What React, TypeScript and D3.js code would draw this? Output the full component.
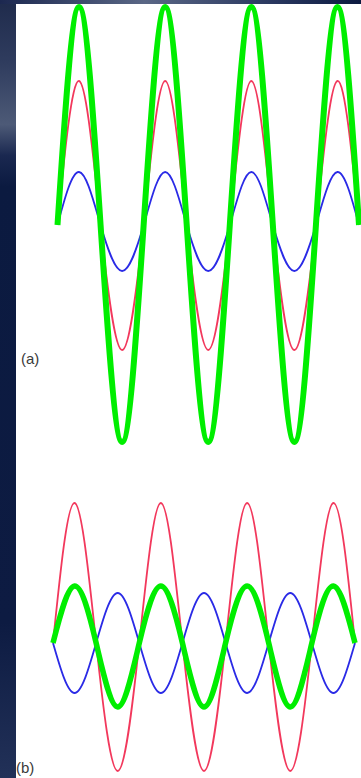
import React, { useEffect, useRef } from "react";
import * as d3 from "d3";

// quarter-period steps along the wave (3.5 periods)
const steps = [0, 1, 2, 3, 4, 5, 6, 7, 8, 9, 10, 11, 12, 13, 14];

// (a) in phase: constructive
const blueA = [0, 0.53, 0, -0.46, 0, 0.53, 0, -0.46, 0, 0.53, 0, -0.46, 0, 0.53, 0];
const redA = [0, 1.44, 0, -1.25, 0, 1.44, 0, -1.25, 0, 1.44, 0, -1.25, 0, 1.44, 0];
const greenA = [0, 2.18, 0, -2.17, 0, 2.18, 0, -2.17, 0, 2.18, 0, -2.17, 0, 2.18, 0];

// (b) out of phase: destructive
const blueB = [0, -0.5, 0, 0.5, 0, -0.5, 0, 0.5, 0, -0.5, 0, 0.5, 0, -0.5, 0];
const redB = [0, 1.4, 0, -1.28, 0, 1.4, 0, -1.28, 0, 1.4, 0, -1.28, 0, 1.4, 0];
const greenB = [0, 0.57, 0, -0.64, 0, 0.57, 0, -0.64, 0, 0.57, 0, -0.64, 0, 0.57, 0];

const labels = ["(a)", "(b)"];

const App = () => {
  const svgRef = useRef(null);

  useEffect(() => {
    const width = 361;
    const height = 778;
    const svg = d3.select(svgRef.current);
    svg.selectAll("*").remove();

    const defs = svg.append("defs");
    const bg = defs.append("linearGradient").attr("id", "bg").attr("x1", 0).attr("y1", 0).attr("x2", 0).attr("y2", 1);
    [
      [0, "#1f2b4c"],
      [0.08, "#2f3c5e"],
      [0.16, "#4d5a77"],
      [0.2, "#1a2850"],
      [0.24, "#0b1a40"],
      [0.8, "#0d1b42"],
      [1, "#223158"],
    ].forEach(([o, c]) => bg.append("stop").attr("offset", o).attr("stop-color", c));

    const topG = defs.append("linearGradient").attr("id", "topbar");
    [
      [0, "#1c2850"],
      [0.4, "#5a6785"],
      [0.75, "#2a3860"],
      [1, "#0c1a40"],
    ].forEach(([o, c]) => topG.append("stop").attr("offset", o).attr("stop-color", c));

    defs.append("clipPath").attr("id", "panel")
      .append("rect").attr("x", 16).attr("y", 4).attr("width", width - 16).attr("height", height - 4);

    svg.append("rect").attr("width", width).attr("height", height).attr("fill", "url(#bg)");
    svg.append("rect").attr("width", width).attr("height", 4).attr("fill", "url(#topbar)");
    svg.append("rect").attr("x", 16).attr("y", 4).attr("width", width - 16).attr("height", height - 4).attr("fill", "#ffffff");

    const panels = [
      { x: [57.5, 359], center: 225, series: [[blueA, "#2a2ae6", 1.8], [redA, "#f2385c", 1.8], [greenA, "#00ee00", 6]] },
      { x: [53, 355], center: 643, series: [[blueB, "#2a2ae6", 1.8], [redB, "#f2385c", 1.8], [greenB, "#00ee00", 5.5]] },
    ];

    const plot = svg.append("g").attr("clip-path", "url(#panel)");

    panels.forEach(p => {
      const x = d3.scaleLinear().domain([0, 14]).range(p.x);
      const y = d3.scaleLinear().domain([-1, 1]).range([p.center + 100, p.center - 100]);
      p.series.forEach(([vals, color, w]) => {
        const line = d3.line()
          .x((d, i) => x(steps[i]))
          .y(d => y(d))
          .curve(d3.curveNatural);
        plot.append("path")
          .attr("d", line(vals))
          .attr("fill", "none")
          .attr("stroke", color)
          .attr("stroke-width", w)
          .attr("stroke-linejoin", "round");
      });
    });

    const labelPos = [[21, 364], [16, 773]];
    labels.forEach((t, i) => {
      svg.append("text")
        .attr("x", labelPos[i][0])
        .attr("y", labelPos[i][1])
        .attr("font-family", "Liberation Sans, Arial, sans-serif")
        .attr("font-size", 15)
        .attr("fill", "#3a3a3a")
        .text(t);
    });
  }, []);

  return (
    <svg
      ref={svgRef}
      width={361}
      height={778}
      style={{ position: "absolute", left: 0, top: 0, display: "block" }}
    ></svg>
  );
};

export default App;
